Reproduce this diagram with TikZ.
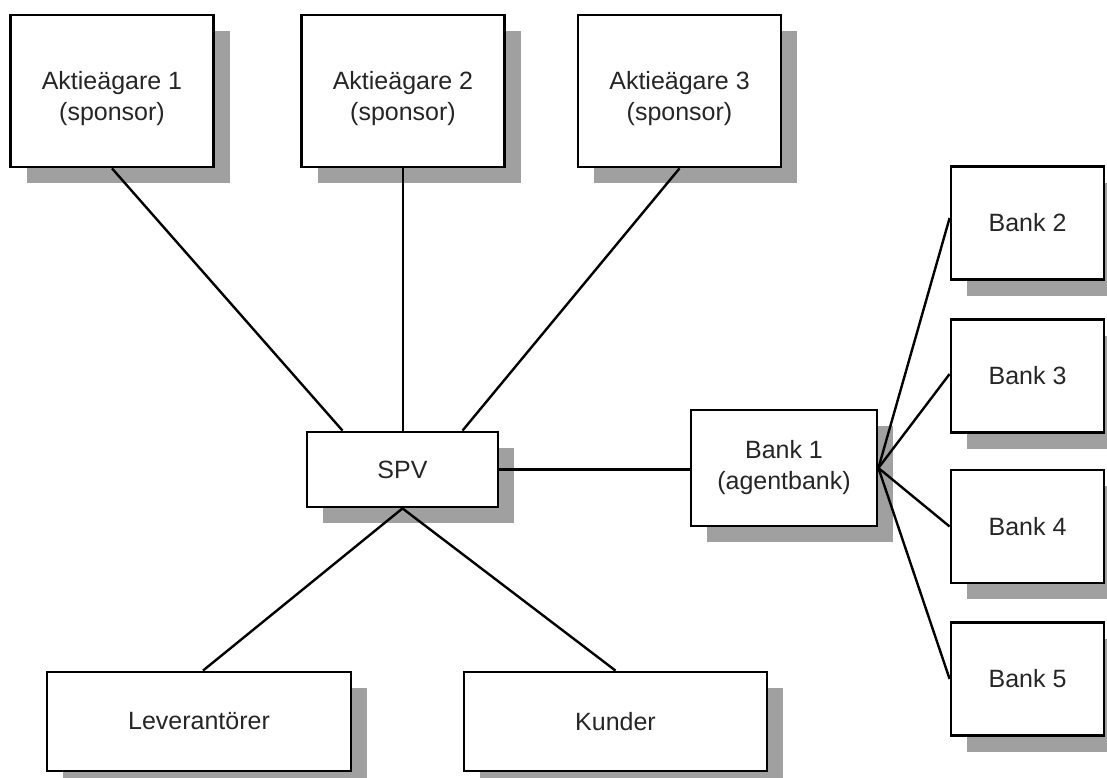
\documentclass[tikz,border=0pt]{standalone}
\usepackage{fontspec}
\setmainfont{Liberation Sans}
\usetikzlibrary{shadows,calc}
\definecolor{shadowgray}{HTML}{A0A0A0}
\newcommand\aktpad{\rule{0pt}{34pt}}
\begin{document}
\begin{tikzpicture}[x=1pt,y=-1pt,
  box/.style={draw=black,line width=2.8pt,fill=white,align=center,
    inner sep=0pt,anchor=center,text=black!85,
    font=\fontsize{25}{31}\selectfont,
    general shadow={fill=shadowgray,shadow xshift=16pt,shadow yshift=-16pt}},
  akt/.style={box,minimum width=203pt,minimum height=152pt},
  bank/.style={box,minimum width=153pt,minimum height=113pt},
  wide/.style={box,minimum width=304pt,minimum height=99pt},
  link/.style={draw=black,line width=2.4pt}]
\useasboundingbox (0,0) rectangle (1107,778);
\fill[white] (0,0) rectangle (1107,778);
\node[akt] (akt1) at (112,91) {\aktpad Aktieägare 1\\(sponsor)};
\node[akt] (akt2) at (403,91) {\aktpad Aktieägare 2\\(sponsor)};
\node[akt] (akt3) at (679.5,91) {\aktpad Aktieägare 3\\(sponsor)};
\node[box,minimum width=191pt,minimum height=75pt] (spv) at (402.5,469.5) {SPV};
\node[box,minimum width=186pt,minimum height=116pt] (bank1) at (784,468) {Bank 1\\(agentbank)};
\node[bank] (bank2) at (1027.5,223) {Bank 2};
\node[bank] (bank3) at (1027.5,376) {Bank 3};
\node[bank] (bank4) at (1027.5,526.5) {Bank 4};
\node[bank] (bank5) at (1027.5,679) {Bank 5};
\node[wide] (lev) at (199,721.5) {Leverantörer};
\node[wide,minimum width=303pt] (kun) at (615.5,721.5) {Kunder};
\draw[link] (akt1.south) -- ([xshift=-60pt]spv.north);
\draw[link] (akt2.south) -- (akt2.south |- spv.north);
\draw[link] (akt3.south) -- ([xshift=60pt]spv.north);
\draw[link] (spv.east) -- (spv.east -| bank1.west);
\draw[link] (bank1.east) -- ([yshift=5pt]bank2.west);
\draw[link] (bank1.east) -- ([yshift=2pt]bank3.west);
\draw[link] (bank1.east) -- (bank4.west);
\draw[link] (bank1.east) -- (bank5.west);
\draw[link] (spv.south) -- ([xshift=4pt]lev.north);
\draw[link] (spv.south) -- (kun.north);
\end{tikzpicture}
\end{document}
